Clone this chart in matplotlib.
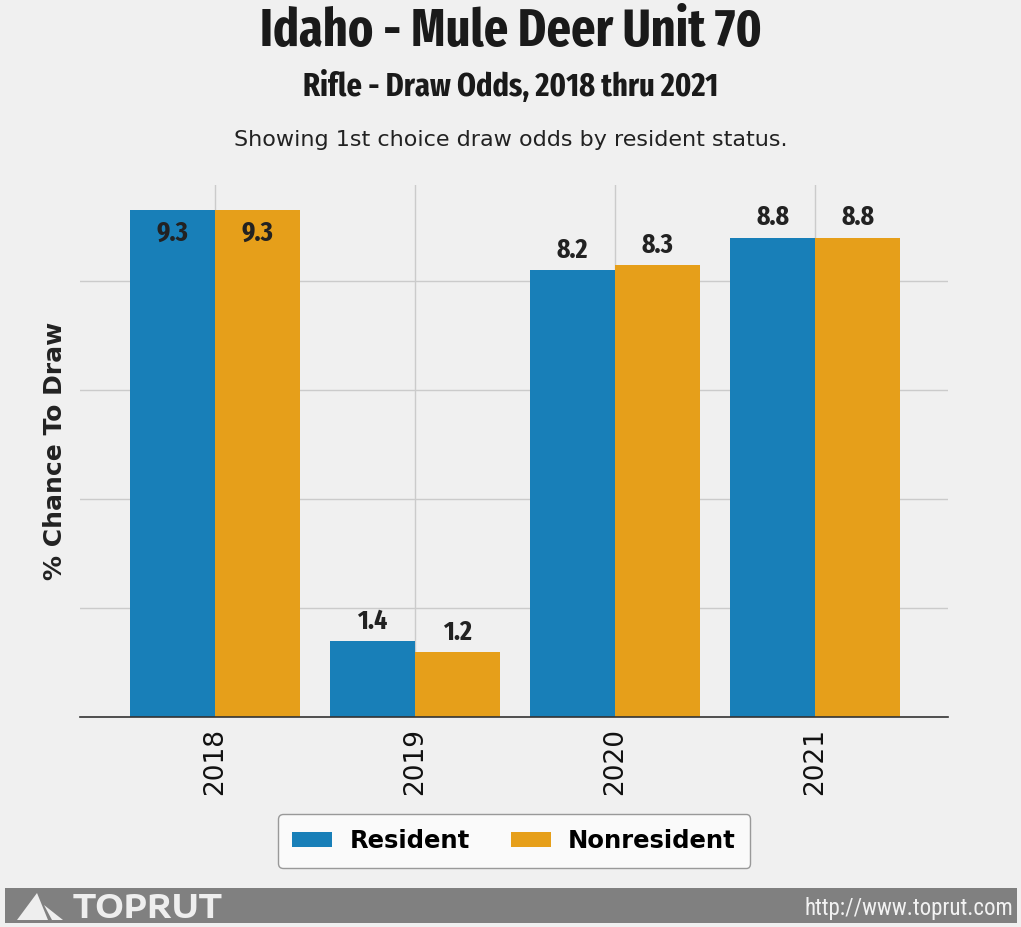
import matplotlib
matplotlib.use('Agg')
import matplotlib.pyplot as plt
from matplotlib import font_manager
import numpy as np
from matplotlib.patches import Rectangle, Polygon

# data
years = ['2018', '2019', '2020', '2021']
resident = [9.3, 1.4, 8.2, 8.8]
nonresident = [9.3, 1.2, 8.3, 8.8]

bg = '#f0f0f0'
c_res = '#187fb8'
c_non = '#e69f1a'

names = set(f.name for f in font_manager.fontManager.ttflist)
def pick(*cands):
    for c in cands:
        if c in names:
            return [c, 'DejaVu Sans']
    return ['DejaVu Sans']

cond = pick('Fira Sans Extra Condensed', 'Fira Sans Condensed')
narrow = pick('Roboto Condensed', 'PT Sans Narrow', 'Archivo Narrow')
wide = pick('Encode Sans Expanded', 'Saira Expanded', 'DejaVu Sans')

fig = plt.figure(figsize=(10.21, 9.27), dpi=100, facecolor=bg)
W, H = 1021, 927
ax = fig.add_axes([80 / W, 1 - 717 / H, (948 - 80) / W, (717 - 185) / H])
ax.set_facecolor(bg)

x = np.arange(len(years))
w = 0.425
b1 = ax.bar(x - w / 2, resident, w, color=c_res, label='Resident', zorder=2)
b2 = ax.bar(x + w / 2, nonresident, w, color=c_non, label='Nonresident', zorder=2)

ymax = max(max(resident), max(nonresident)) * 1.05
ax.set_ylim(0, ymax)
ax.set_xlim(-0.675, 3.665)
ax.set_yticks([0, 2, 4, 6, 8])
ax.set_yticklabels([])
ax.tick_params(axis='y', length=0)
ax.tick_params(axis='x', length=0, pad=8)
ax.set_xticks(x)
ax.set_xticklabels(years, rotation=90, fontsize=19, color='#111111')
ax.grid(True, color='#cbcbcb', linewidth=1, zorder=0)
ax.set_axisbelow(True)
for s in ['left', 'right', 'top']:
    ax.spines[s].set_visible(False)
ax.spines['bottom'].set_color('#333333')
ax.spines['bottom'].set_linewidth(1.2)

# value labels
for bars in (b1, b2):
    for r in bars:
        v = r.get_height()
        cx = r.get_x() + r.get_width() / 2
        if v > ymax - 0.9:
            ax.text(cx, v - 0.18, f'{v:.1f}', ha='center', va='top', fontsize=20,
                    fontweight='bold', family=cond, color='#222222')
        else:
            ax.text(cx, v + 0.12, f'{v:.1f}', ha='center', va='bottom', fontsize=20,
                    fontweight='bold', family=cond, color='#222222')

ax.set_ylabel('% Chance To Draw', fontsize=18, fontweight='bold', color='#222222', labelpad=6)

# titles
fig.text(0.5, 1 - 32 / H, 'Idaho - Mule Deer Unit 70', ha='center', va='center',
         fontsize=37.5, fontweight='bold', family=cond, color='#1a1a1a')
fig.text(0.5, 1 - 87 / H, 'Rifle - Draw Odds, 2018 thru 2021', ha='center', va='center',
         fontsize=23.7, fontweight='bold', family=cond, color='#1a1a1a')
fig.text(0.5, 1 - 140 / H, 'Showing 1st choice draw odds by resident status.', ha='center',
         va='center', fontsize=16, color='#222222')

# legend
leg = fig.legend(loc='center', bbox_to_anchor=(514 / W, 1 - 841 / H), ncol=2,
                 prop={'weight': 'bold', 'size': 17.5}, frameon=True, facecolor='#fafafa',
                 edgecolor='#999999', handlelength=1.65, handleheight=0.6, columnspacing=1.7,
                 handletextpad=0.7, borderpad=0.6, fancybox=True)
leg.get_frame().set_alpha(1)

# footer
fig.patches.append(Rectangle((5 / W, 1 - 923 / H), 1012 / W, 35 / H, transform=fig.transFigure,
                             facecolor='#808080', edgecolor='none'))
fig.patches.append(Polygon([(17 / W, 1 - 920 / H), (37 / W, 1 - 893 / H), (48 / W, 1 - 920 / H)],
                           closed=True, transform=fig.transFigure, facecolor='#eeeeee',
                           edgecolor='none'))
fig.patches.append(Polygon([(44 / W, 1 - 905 / H), (52 / W, 1 - 920 / H), (63 / W, 1 - 920 / H)],
                           closed=True, transform=fig.transFigure, facecolor='#eeeeee',
                           edgecolor='none'))
fig.text(73 / W, 1 - 908 / H, 'TOPRUT', ha='left', va='center', fontsize=23, fontweight='bold',
         family=wide, color='#eeeeee')
fig.text(1013 / W, 1 - 908 / H, 'http://www.toprut.com', ha='right', va='center', fontsize=16.5,
         family=narrow, color='#f2f2f2')

fig.savefig('out.png', dpi=100, facecolor=bg)
